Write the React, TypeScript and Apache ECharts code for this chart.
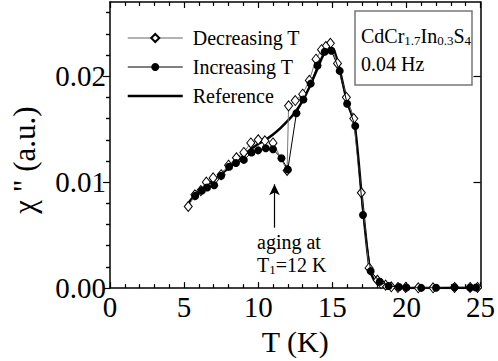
import React, { useEffect, useRef } from 'react';
import * as echarts from 'echarts';

const FONT = 'Liberation Serif, serif';

// Decreasing T (open diamonds), in measurement order (cooling, with aging stop at 12 K)
const decT = [24.8, 24.3, 23.25, 21.8, 20.8, 19.95, 19.43, 18.98, 18.6, 18.3, 18.04, 17.48, 16.96, 16.45, 15.95, 15.35, 14.87, 14.56, 14.27, 13.9, 13.45, 13.0, 12.5, 12.05, 11.95, 11.0, 10.45, 10.0, 9.5, 9.03, 8.53, 8.0, 7.5, 6.96, 6.5, 6.13, 5.73, 5.28];
const decChi = [0.00006, 0.00006, 0.00006, 0.00003, 0.00003, 0.00006, 0.00006, 0.00012, 0.00028, 0.00043, 0.00074, 0.0019, 0.009, 0.016, 0.018, 0.0212, 0.0231, 0.0228, 0.0225, 0.0216, 0.0196, 0.0183, 0.0177, 0.0172, 0.0111, 0.0137, 0.0139, 0.014, 0.0137, 0.0128, 0.0123, 0.0116, 0.0107, 0.0104, 0.01, 0.0092, 0.0088, 0.0077];

// Increasing T (filled circles)
const incT = [5.75, 6.2, 6.55, 7.03, 7.5, 8.04, 8.5, 9.03, 9.55, 10.0, 10.51, 11.0, 11.57, 12.0, 12.58, 13.05, 13.54, 14.0, 14.49, 14.94, 15.5, 16.0, 16.55, 17.07, 17.59, 18.2, 18.8, 19.5, 20.0, 21.0, 22.0, 23.25, 24.3, 24.7];
const incChi = [0.0087, 0.0092, 0.0095, 0.0097, 0.0106, 0.01145, 0.0118, 0.0121, 0.0128, 0.013, 0.0132, 0.0131, 0.01225, 0.0112, 0.0165, 0.0178, 0.0193, 0.021, 0.0223, 0.0224, 0.0205, 0.0174, 0.0153, 0.0069, 0.0016, 0.0006, 0.0002, 0.0001, 0.00005, 0.00002, 0.00003, 0.00008, 0.00006, 0.00006];

// Reference curve (thick line)
const refT = [5.1, 5.5, 6.0, 6.5, 7.0, 7.5, 8.0, 8.5, 9.0, 9.5, 10.0, 10.5, 11.0, 11.5, 12.0, 12.5, 13.0, 13.5, 14.0, 14.4, 14.8, 15.1, 15.5, 16.0, 16.5, 17.0, 17.5, 17.8, 18.2, 19.0, 20.0, 22.0, 25.0];
const refChi = [0.0076, 0.0084, 0.0091, 0.0097, 0.0102, 0.0108, 0.0113, 0.0119, 0.0125, 0.0131, 0.0136, 0.014, 0.0145, 0.0151, 0.0158, 0.0166, 0.0177, 0.0191, 0.0207, 0.022, 0.0226, 0.0225, 0.0206, 0.0176, 0.0155, 0.0085, 0.002, 0.0008, 0.0004, 0.0001, 0.00002, 0.0, 0.00002];

const xTicks = [0, 5, 10, 15, 20, 25];
const yMajor = [0, 0.01, 0.02];
const yMinor = [0.002, 0.004, 0.006, 0.008, 0.012, 0.014, 0.016, 0.018, 0.022, 0.024, 0.026];

// aging arrow (T, chi from -> to)
const arrowT = 11.1;
const arrowFrom = 0.0057;
const arrowTo = 0.0098;

const zip = (a: number[], b: number[]) => a.map((v, i) => [v, b[i]]);

export default function App() {
  const ref = useRef<HTMLDivElement>(null);
  useEffect(() => {
    const chart = echarts.init(ref.current!, null, { renderer: 'svg' });
    const axisLine = { show: true, onZero: false, lineStyle: { color: '#000', width: 1.5 } };
    const tickStyle = { color: '#000', width: 1.2 };
    const yBase = { type: 'value', min: 0, max: 0.027, splitLine: { show: false } };
    const option: any = {
      animation: false,
      backgroundColor: '#fff',
      textStyle: { fontFamily: FONT },
      grid: { left: 110, right: 17, top: 2, bottom: 68 },
      legend: {
        orient: 'vertical',
        left: 127,
        top: 28,
        padding: 0,
        itemWidth: 55,
        itemHeight: 10,
        itemGap: 9,
        textStyle: { fontSize: 20, fontFamily: FONT, color: '#000', padding: [0, 0, 0, 5] },
        data: [
          { name: 'Decreasing T', lineStyle: { color: '#999', width: 1.5 } },
          { name: 'Increasing T', lineStyle: { color: '#000', width: 1 } },
          { name: 'Reference', icon: 'path://M0,0 L55,0 L55,2.5 L0,2.5 Z', itemStyle: { color: '#000' } },
        ],
      },
      xAxis: [
        {
          type: 'value', min: 0, max: 25, interval: 5, position: 'bottom',
          axisLine,
          axisTick: { show: true, inside: true, length: 6, lineStyle: tickStyle },
          minorTick: { show: true, splitNumber: 5, length: 4, lineStyle: tickStyle },
          axisLabel: { color: '#000', fontSize: 29, fontFamily: FONT, margin: 4, customValues: xTicks },
          splitLine: { show: false },
          name: 'T (K)', nameLocation: 'middle', nameGap: 37,
          nameTextStyle: { fontSize: 30, fontFamily: FONT, color: '#000' },
        },
        {
          type: 'value', min: 0, max: 25, interval: 5, position: 'top',
          axisLine,
          axisTick: { show: true, inside: true, length: 6, lineStyle: tickStyle },
          minorTick: { show: true, splitNumber: 5, length: 4, lineStyle: tickStyle },
          axisLabel: { show: false },
          splitLine: { show: false },
        },
      ],
      yAxis: [
        {
          ...yBase, position: 'left',
          axisLine,
          axisTick: { show: true, inside: false, length: 7, lineStyle: tickStyle, customValues: yMajor },
          axisLabel: {
            color: '#000', fontSize: 29, fontFamily: FONT, margin: 4, customValues: yMajor,
            formatter: (v: number) => v.toFixed(2),
          },
          name: 'χ " (a.u.)', nameLocation: 'middle', nameGap: 70, nameRotate: 90,
          nameTextStyle: { fontSize: 31, fontFamily: FONT, color: '#000', padding: [0, 30, 0, 0] },
        },
        {
          ...yBase, position: 'left',
          axisLine: { show: false },
          axisTick: { show: true, inside: false, length: 4, lineStyle: tickStyle, customValues: yMinor },
          axisLabel: { show: false },
        },
        {
          ...yBase, position: 'right',
          axisLine,
          axisTick: { show: true, inside: true, length: 7, lineStyle: tickStyle, customValues: yMajor },
          axisLabel: { show: false },
        },
        {
          ...yBase, position: 'right',
          axisLine: { show: false },
          axisTick: { show: true, inside: true, length: 4, lineStyle: tickStyle, customValues: yMinor },
          axisLabel: { show: false },
        },
      ],
      series: [
        {
          name: 'Reference', type: 'line', xAxisIndex: 0, yAxisIndex: 0,
          data: zip(refT, refChi),
          showSymbol: false, symbol: 'none', smooth: 0.25,
          lineStyle: { color: '#000', width: 2.5 },
          itemStyle: { color: '#000' },
          z: 2,
          markLine: {
            silent: true,
            symbol: ['none', 'arrow'],
            symbolSize: [8, 11],
            lineStyle: { color: '#000', width: 1.2, type: 'solid' },
            label: { show: false },
            data: [[{ coord: [arrowT, arrowFrom] }, { coord: [arrowT, arrowTo] }]],
          },
        },
        {
          name: 'Decreasing T', type: 'line', xAxisIndex: 0, yAxisIndex: 0,
          data: zip(decT, decChi),
          symbol: 'diamond', symbolSize: [8, 10],
          itemStyle: { color: '#fff', borderColor: '#000', borderWidth: 1 },
          lineStyle: { color: '#777', width: 1 },
          z: 3,
        },
        {
          name: 'Increasing T', type: 'line', xAxisIndex: 0, yAxisIndex: 0,
          data: zip(incT, incChi),
          symbol: 'circle', symbolSize: 8,
          itemStyle: { color: '#000' },
          lineStyle: { color: '#000', width: 1 },
          z: 4,
        },
      ],
      graphic: [
        {
          type: 'rect', shape: { x: 355, y: 11, width: 117, height: 74 },
          style: { fill: '#fff', stroke: '#777', lineWidth: 1.5 }, z: 10,
        },
        {
          type: 'text', left: 361, top: 26, z: 11,
          style: {
            text: '{a|CdCr}{b|1.7}{a|In}{b|0.3}{a|S}{b|4}',
            rich: {
              a: { fontSize: 20, fontFamily: FONT, fill: '#000', lineHeight: 22 },
              b: { fontSize: 13, fontFamily: FONT, fill: '#000', lineHeight: 13, verticalAlign: 'bottom' },
            },
          },
        },
        {
          type: 'text', left: 361, top: 54, z: 11,
          style: { text: '0.04 Hz', font: '20px Liberation Serif, serif', fill: '#000' },
        },
        {
          type: 'text', left: 257, top: 232, z: 11,
          style: { text: 'aging at', font: '20px Liberation Serif, serif', fill: '#000' },
        },
        {
          type: 'text', left: 257, top: 255, z: 11,
          style: {
            text: '{a|T}{b|1}{a|=12 K}',
            rich: {
              a: { fontSize: 20, fontFamily: FONT, fill: '#000', lineHeight: 22 },
              b: { fontSize: 13, fontFamily: FONT, fill: '#000', lineHeight: 13, verticalAlign: 'bottom' },
            },
          },
        },
      ],
    };
    chart.setOption(option);
    return () => chart.dispose();
  }, []);
  return <div ref={ref} style={{ position: 'fixed', left: 0, top: 0, width: 498, height: 361 }} />;
}
